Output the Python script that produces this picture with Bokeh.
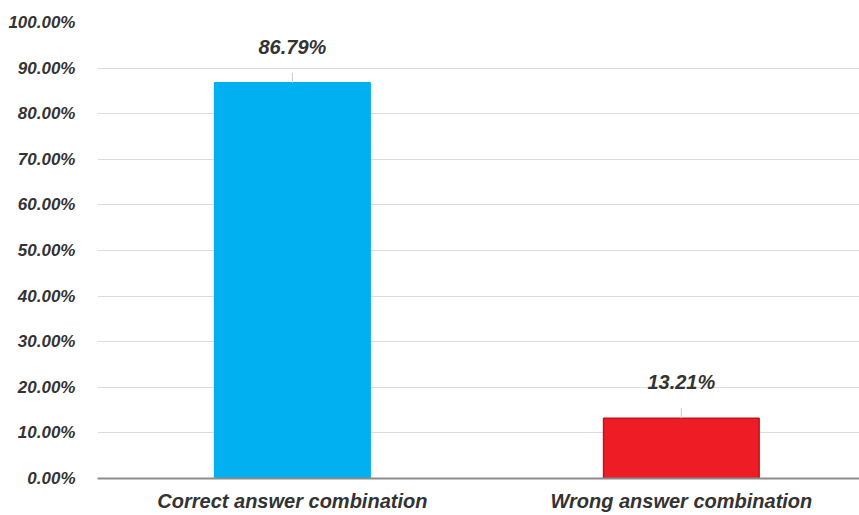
from bokeh.plotting import figure
from bokeh.models import ColumnDataSource, FixedTicker, NumeralTickFormatter, Range1d
from bokeh.core.properties import value
from bokeh.embed import file_html
from bokeh.resources import INLINE

# Share of answer combinations
categories = ["Correct answer combination", "Wrong answer combination"]
shares = [0.8679, 0.1321]
share_labels = ["86.79%", "13.21%"]
bar_colors = ["#00B0F0", "#EE1C25"]
bar_edges = ["#00B0F0", "#C0141C"]
y_ticks = [0.0, 0.1, 0.2, 0.3, 0.4, 0.5, 0.6, 0.7, 0.8, 0.9, 1.0]

xs = list(range(len(categories)))
src = ColumnDataSource(dict(
    x=xs, top=shares, label=share_labels, color=bar_colors, edge=bar_edges,
    lead_top=[s + 0.022 for s in shares],
))

p = figure(
    width=859, height=515, output_backend="svg", toolbar_location=None,
    x_range=Range1d(-0.501, 1.458), y_range=Range1d(0, 1.0),
    min_border_left=97, min_border_right=0, min_border_top=22, min_border_bottom=37,
)
p.outline_line_color = None
p.background_fill_color = "white"
p.border_fill_color = "white"

p.vbar(x="x", top="top", width=0.40, bottom=0, source=src,
       fill_color="color", line_color="edge", line_width=1.5)

# small leader marks between bars and value labels
p.segment(x0="x", y0="top", x1="x", y1="lead_top", source=src,
          line_color="#c8c8c8", line_width=1)

p.text(x="x", y="top", text="label", source=src, y_offset=-25,
       text_align="center", text_baseline="bottom",
       text_font=value("Liberation Sans"), text_font_style="bold italic",
       text_font_size="20px", text_color="#333333")

# axes
p.xaxis.ticker = FixedTicker(ticks=xs)
p.xaxis.major_label_overrides = {i: c for i, c in zip(xs, categories)}
p.xaxis.major_label_text_font = "Liberation Sans"
p.xaxis.major_label_text_font_style = "bold italic"
p.xaxis.major_label_text_font_size = "20px"
p.xaxis.major_label_text_color = "#333333"
p.xaxis.major_tick_line_color = None
p.xaxis.minor_tick_line_color = None
p.xaxis.major_label_standoff = 5
p.xaxis.axis_line_color = "#8c8c8c"
p.xaxis.axis_line_width = 2

p.yaxis.ticker = FixedTicker(ticks=y_ticks)
p.yaxis.formatter = NumeralTickFormatter(format="0.00%")
p.yaxis.major_label_text_font = "Liberation Sans"
p.yaxis.major_label_text_font_style = "bold italic"
p.yaxis.major_label_text_font_size = "17px"
p.yaxis.major_label_text_color = "#333333"
p.yaxis.major_tick_line_color = None
p.yaxis.minor_tick_line_color = None
p.yaxis.axis_line_color = None
p.yaxis.major_label_standoff = 16

p.xgrid.grid_line_color = None
p.ygrid.ticker = FixedTicker(ticks=y_ticks)
p.ygrid.grid_line_color = "#dcdcdc"
p.ygrid.grid_line_width = 1

open("out.html", "w").write(file_html(p, INLINE))
